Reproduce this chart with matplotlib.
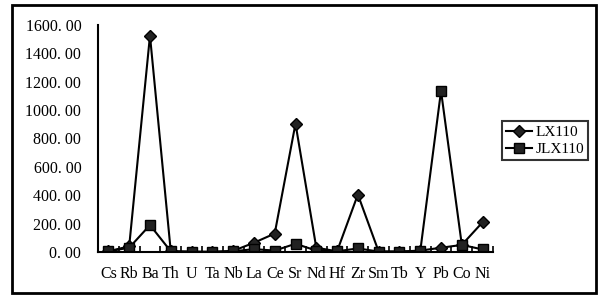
import matplotlib
matplotlib.use("Agg")
import matplotlib.pyplot as plt
from matplotlib.patches import Rectangle
from matplotlib.ticker import FixedLocator, FuncFormatter

elements = ["Cs", "Rb", "Ba", "Th", "U", "Ta", "Nb", "La", "Ce", "Sr",
            "Nd", "Hf", "Zr", "Sm", "Tb", "Y", "Pb", "Co", "Ni"]
lx110 = [5, 40, 1525, 5, 2, 1, 8, 65, 130, 905,
         30, 5, 405, 3, 3, 10, 30, 50, 210]
jlx110 = [5, 30, 190, 5, 2, 1, 5, 20, 10, 58,
          10, 5, 25, 3, 3, 5, 1135, 50, 18]

plt.rcParams['font.family'] = ['Liberation Serif', 'DejaVu Serif']

fig = plt.figure(figsize=(6.03, 2.98), dpi=100)
ax = fig.add_axes([98 / 603, 1 - 252 / 298, 395 / 603, 227 / 298])

x = [i + 0.5 for i in range(len(elements))]
ax.plot(x, lx110, color='black', lw=1.5, marker='D', ms=6.5,
        mfc='#222222', mec='black', label='LX110')
ax.plot(x, jlx110, color='black', lw=1.5, marker='s', ms=7,
        mfc='#222222', mec='black', label='JLX110')

ax.set_xlim(0, len(elements))
ax.set_ylim(0, 1600)
ax.set_yticks(range(0, 1601, 200))
ax.yaxis.set_major_formatter(FuncFormatter(lambda v, p: f"{v:.2f}".replace(".", ". ")))
ax.set_xticks(x)
ax.set_xticklabels(elements)
ax.xaxis.set_minor_locator(FixedLocator(range(len(elements) + 1)))
ax.tick_params(axis='x', which='major', length=0, pad=10, labelsize=11.5)
ax.tick_params(axis='x', which='minor', direction='in', length=4, width=1.2)
ax.tick_params(axis='y', length=0, pad=12, labelsize=11.5)
for s in ['top', 'right']:
    ax.spines[s].set_visible(False)
ax.spines['left'].set_linewidth(1.5)
ax.spines['bottom'].set_linewidth(1.5)

leg = ax.legend(loc='center left', bbox_to_anchor=(1.023, 0.49), frameon=True,
                fancybox=False, edgecolor='black', fontsize=11,
                handlelength=1.7, borderpad=0.25, labelspacing=0.25,
                handletextpad=0.25, borderaxespad=0)
leg.get_frame().set_linewidth(1.5)

fig.patches.append(Rectangle((12 / 603, 5 / 298), 584 / 603, 288 / 298,
                             transform=fig.transFigure, fill=False,
                             edgecolor='black', lw=2))

fig.savefig("out.png", dpi=100)
